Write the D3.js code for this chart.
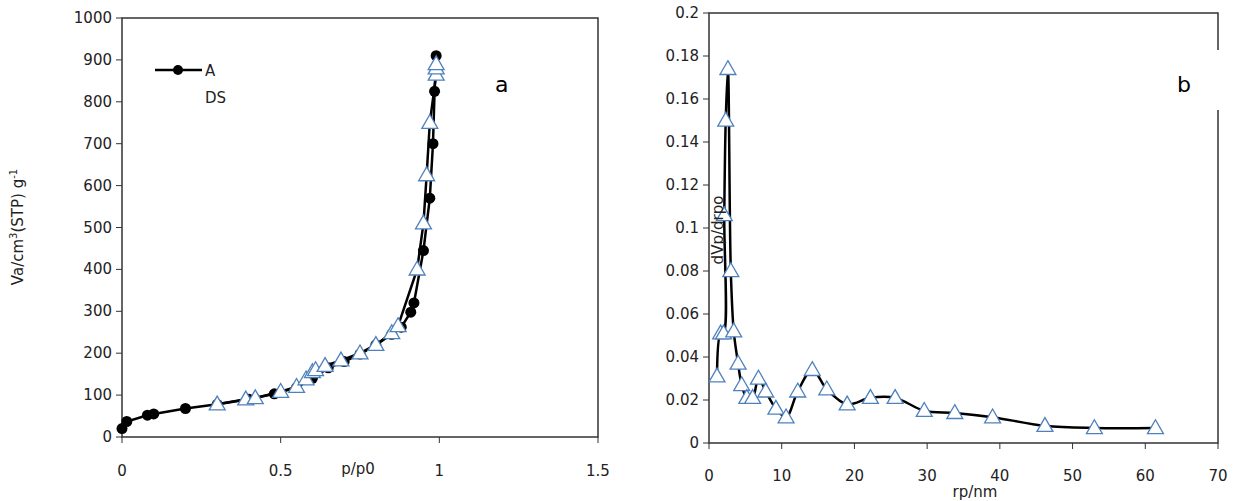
<!DOCTYPE html><html><head><meta charset="utf-8"><script src="https://cdn.jsdelivr.net/npm/d3@7"></script>
<style>body{margin:0;background:#fff}text{font-family:"DejaVu Sans",sans-serif;fill:#222}</style></head><body>
<svg id="c" width="1242" height="501"></svg>
<script>
const adsX=[0,0.015,0.08,0.1,0.2,0.3,0.4,0.48,0.55,0.6,0.65,0.7,0.75,0.8,0.85,0.88,0.91,0.92,0.95,0.97,0.98,0.985,0.99];
const adsY=[20,37,52,55,68,78,90,103,118,140,165,180,198,220,245,262,298,320,445,570,700,825,910];
const desX=[0.3,0.39,0.42,0.5,0.55,0.58,0.6,0.61,0.64,0.69,0.75,0.8,0.85,0.87,0.93,0.95,0.96,0.97,0.99,0.99,0.99];
const desY=[78,90,93,108,120,138,155,160,170,183,200,220,248,265,400,510,625,750,865,880,890];
const rpX=[1.1,1.6,2.0,2.1,2.3,2.6,3.0,3.4,4.0,4.5,5.2,6.0,6.8,7.8,9.2,10.6,12.2,14.2,16.2,19.0,22.2,25.6,29.6,33.8,39.0,46.2,53.0,61.4];
const rpY=[0.031,0.051,0.051,0.106,0.150,0.174,0.080,0.052,0.037,0.027,0.021,0.021,0.030,0.024,0.016,0.012,0.024,0.034,0.025,0.018,0.021,0.021,0.015,0.014,0.012,0.008,0.007,0.007];
const xTicksA=[0,0.5,1,1.5], yTicksA=[0,100,200,300,400,500,600,700,800,900,1000];
const xTicksB=[0,10,20,30,40,50,60,70], yTicksB=[0,0.02,0.04,0.06,0.08,0.1,0.12,0.14,0.16,0.18,0.2];
const svg=d3.select("#c");
const tri=d3.symbol().type(d3.symbolTriangle).size(110);
function panel(o){
  const x=d3.scaleLinear().domain(o.xd).range([o.l,o.r]);
  const y=d3.scaleLinear().domain(o.yd).range([o.b,o.t]);
  const g=svg.append("g");
  g.append("path").attr("d",o.frame(x,y)).attr("fill","none").attr("stroke","#333").attr("stroke-width",1.5);
  o.yt.forEach(v=>{g.append("line").attr("x1",o.l-6).attr("x2",o.l).attr("y1",y(v)).attr("y2",y(v)).attr("stroke","#333");
    g.append("text").attr("x",o.l-10).attr("y",y(v)+5).attr("text-anchor","end").attr("font-size",15).text(v);});
  o.xt.forEach(v=>{g.append("line").attr("x1",x(v)).attr("x2",x(v)).attr("y1",o.b).attr("y2",o.b+6).attr("stroke","#333");
    g.append("text").attr("x",x(v)).attr("y",o.xly).attr("text-anchor","middle").attr("font-size",15).text(v);});
  return {x,y,g};
}
// panel a
const A=panel({xd:[0,1.5],yd:[0,1000],l:122,r:598,t:18,b:437,xt:xTicksA,yt:yTicksA,xly:476,
 frame:(x,y)=>`M122,18H598V437H122Z`});
A.g.append("path").datum(adsX.map((d,i)=>[d,adsY[i]])).attr("d",d3.line().x(d=>A.x(d[0])).y(d=>A.y(d[1]))).attr("fill","none").attr("stroke","#000").attr("stroke-width",2.5);
A.g.append("path").datum(desX.map((d,i)=>[d,desY[i]])).attr("d",d3.line().x(d=>A.x(d[0])).y(d=>A.y(d[1]))).attr("fill","none").attr("stroke","#000").attr("stroke-width",2.5);
adsX.forEach((d,i)=>A.g.append("circle").attr("cx",A.x(d)).attr("cy",A.y(adsY[i])).attr("r",5.5).attr("fill","#000"));
desX.forEach((d,i)=>A.g.append("path").attr("d",tri).attr("transform",`translate(${A.x(d)},${A.y(desY[i])+1})`).attr("fill","#fff").attr("stroke","#4f81bd").attr("stroke-width",1.3));
A.g.append("line").attr("x1",155).attr("x2",202).attr("y1",70).attr("y2",70).attr("stroke","#000").attr("stroke-width",2.5);
A.g.append("circle").attr("cx",178).attr("cy",70).attr("r",5).attr("fill","#000");
A.g.append("text").attr("x",205).attr("y",76).attr("font-size",15).text("A");
A.g.append("text").attr("x",205).attr("y",103).attr("font-size",15).text("DS");
A.g.append("text").attr("x",495).attr("y",92).attr("font-size",22).attr("font-family","Open Sans").style("fill","#000").text("a");
A.g.append("text").attr("x",358).attr("y",474).attr("text-anchor","middle").attr("font-size",15).text("p/p0");
A.g.append("text").attr("transform","translate(23,227) rotate(-90)").attr("text-anchor","middle").attr("font-size",15)
 .html('Va/cm<tspan dy="-6" font-size="10">3</tspan><tspan dy="6">(STP) g</tspan><tspan dy="-6" font-size="10">-1</tspan>');
// panel b
const B=panel({xd:[0,70],yd:[0,0.2],l:709,r:1218,t:13,b:443,xt:xTicksB,yt:yTicksB,xly:481,
 frame:()=>`M1218,50V13H709V443H1218V110`});
B.g.append("path").datum(rpX.map((d,i)=>[d,rpY[i]])).attr("d",d3.line().curve(d3.curveCatmullRom).x(d=>B.x(d[0])).y(d=>B.y(d[1]))).attr("fill","none").attr("stroke","#000").attr("stroke-width",2.5);
rpX.forEach((d,i)=>B.g.append("path").attr("d",tri).attr("transform",`translate(${B.x(d)},${B.y(rpY[i])+1})`).attr("fill","#fff").attr("stroke","#4f81bd").attr("stroke-width",1.3));
B.g.append("text").attr("x",1177).attr("y",92).attr("font-size",22).attr("font-family","Open Sans").style("fill","#000").text("b");
B.g.append("text").attr("x",975).attr("y",497).attr("text-anchor","middle").attr("font-size",15).text("rp/nm");
B.g.append("text").attr("transform","translate(723,230) rotate(-90)").attr("text-anchor","middle").attr("font-size",15).text("dVp/drpo");
</script></body></html>
